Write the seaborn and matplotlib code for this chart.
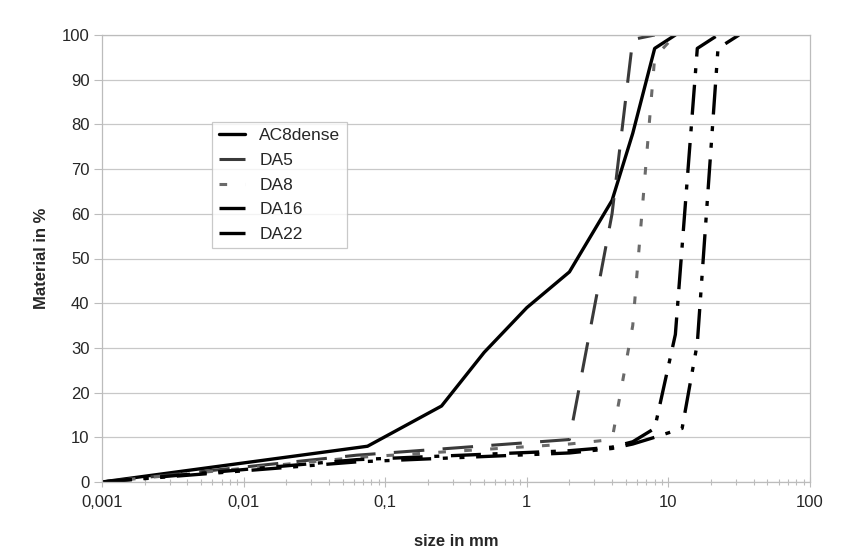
import matplotlib
matplotlib.use("Agg")
import matplotlib.pyplot as plt
import matplotlib.ticker as mticker
import seaborn as sns
import numpy as np

# ---------------- data ----------------
ac8_size = [0.001, 0.075, 0.25, 0.5, 1, 2, 4, 5.6, 8, 11.2]
ac8_pass = [0, 8, 17, 29, 39, 47, 63, 78, 97, 100]

da5_size = [0.001, 0.063, 2, 4, 5.6, 8]
da5_pass = [0, 6, 9.5, 60, 99, 100]

da8_size = [0.001, 0.063, 2, 4, 5.6, 8, 11.2]
da8_pass = [0, 5.5, 8.5, 9.5, 35, 95, 100]

da16_size = [0.001, 0.063, 2, 4, 5.6, 8, 11.2, 16, 22.4]
da16_pass = [0, 5, 7, 7.8, 9, 12, 33, 97, 100]

da22_size = [0.001, 0.063, 2, 4, 5.6, 8, 12.5, 16, 22.4, 31.5]
da22_pass = [0, 4.5, 6.5, 7.5, 8.5, 10, 12, 31, 97, 100]

series_names = ["AC8dense", "DA5", "DA8", "DA16", "DA22"]
x_ticks = [0.001, 0.01, 0.1, 1, 10, 100]
x_tick_labels = ["0,001", "0,01", "0,1", "1", "10", "100"]
y_ticks = list(range(0, 101, 10))

# ---------------- style ----------------
sns.set_style("white")
plt.rcParams["font.family"] = ["Liberation Sans", "DejaVu Sans"]

fig = plt.figure(figsize=(8.52, 5.51), dpi=100)
ax = fig.add_axes([102 / 852, 1 - 482 / 551, 708 / 852, 447 / 551])

data = [
    (ac8_size, ac8_pass, dict(color="black", lw=2.4, linestyle="-")),
    (da5_size, da5_pass, dict(color="#3a3a3a", lw=2.2, linestyle=(0, (10, 6)))),
    (da8_size, da8_pass, dict(color="#6a6a6a", lw=2.2, linestyle=(0, (2.5, 6)))),
    (da16_size, da16_pass, dict(color="black", lw=2.4, linestyle=(0, (9, 3.5, 1.5, 3.5)))),
    (da22_size, da22_pass, dict(color="black", lw=2.4,
                                linestyle=(0, (9, 3.5, 1.5, 3.5, 1.5, 3.5)))),
]
for name, (xs, ys, st) in zip(series_names, data):
    sns.lineplot(x=xs, y=ys, ax=ax, label=name, estimator=None, sort=False, **st)

ax.set_xscale("log")
ax.set_xlim(0.001, 100)
ax.set_ylim(0, 100)

ax.xaxis.set_major_locator(mticker.FixedLocator(x_ticks))
ax.xaxis.set_major_formatter(mticker.FixedFormatter(x_tick_labels))
ax.xaxis.set_minor_locator(mticker.LogLocator(base=10, subs=np.arange(2, 10)))
ax.xaxis.set_minor_formatter(mticker.NullFormatter())
ax.set_yticks(y_ticks)

grid_c = "#c8c8c8"
ax.yaxis.grid(True, color=grid_c, lw=0.9)
ax.xaxis.grid(False)
for s in ax.spines.values():
    s.set_color("#bcbcbc")
    s.set_linewidth(0.9)

ax.tick_params(axis="y", which="major", direction="out", length=6, width=0.8,
               color="#bcbcbc", labelsize=12, pad=3, left=True)
ax.tick_params(axis="x", which="major", direction="inout", length=7, width=0.8,
               color="#bcbcbc", labelsize=12, pad=6, bottom=True)
ax.tick_params(axis="x", which="minor", direction="inout", length=5, width=0.8,
               color="#bcbcbc", bottom=True)

ax.set_xlabel("size in mm", fontsize=12, fontweight="bold", labelpad=17)
ax.set_ylabel("Material in %", fontsize=12, fontweight="bold", labelpad=9)

leg = ax.legend(loc="upper left", bbox_to_anchor=(0.156, 0.805), fontsize=12.5,
                frameon=True, fancybox=False, handlelength=1.5, handletextpad=0.85,
                borderpad=0.35, labelspacing=0.55, borderaxespad=0)
leg.get_frame().set_edgecolor("#bcbcbc")
leg.get_frame().set_linewidth(0.9)

fig.savefig("out.png", dpi=100, facecolor="white")
